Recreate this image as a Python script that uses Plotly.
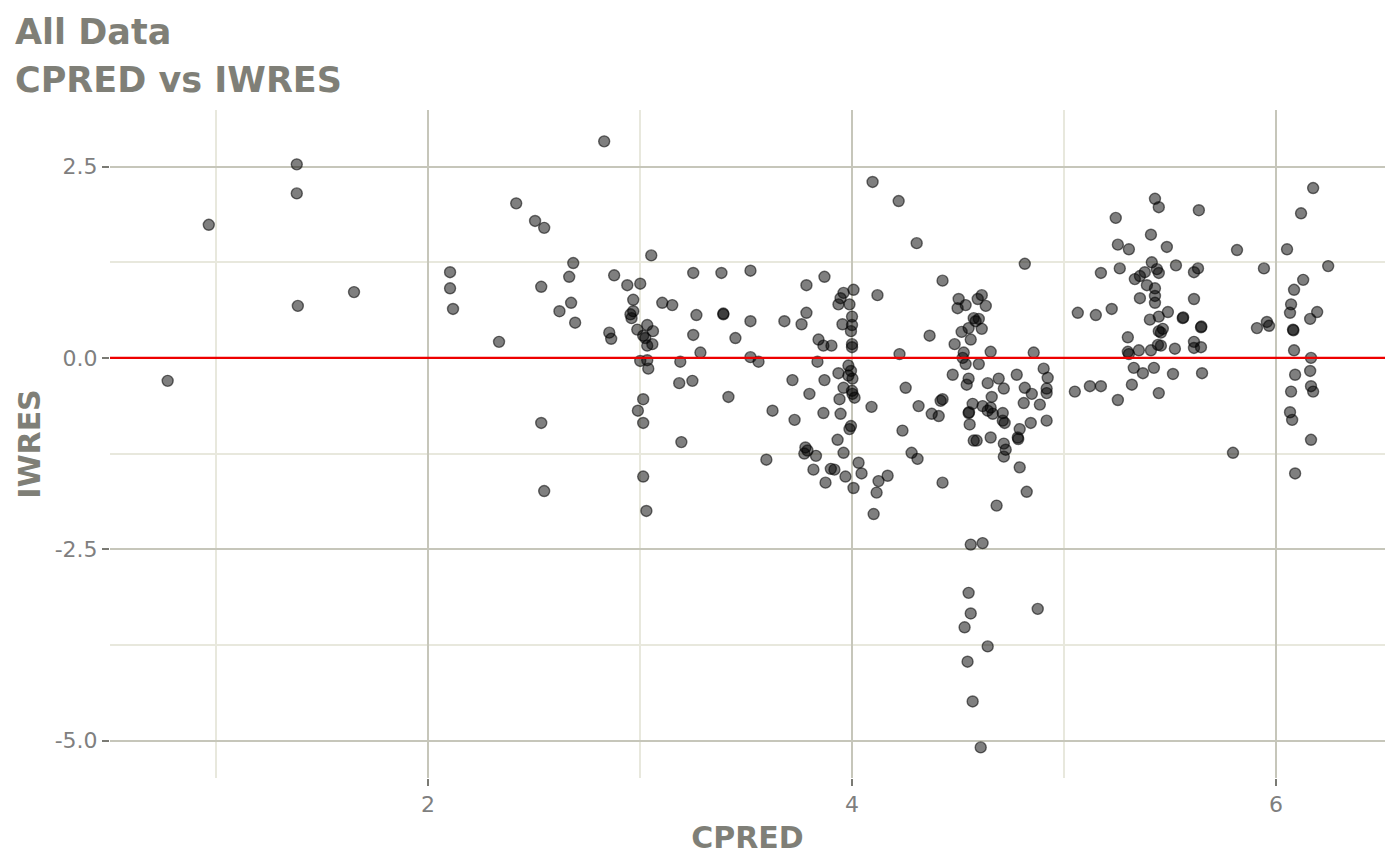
import plotly.graph_objects as go

# CPRED (x) and IWRES (y) values
cpred = [
    0.772, 0.966, 1.381, 1.381, 1.386, 1.651, 2.104, 2.104, 2.118, 2.335, 2.416,
    2.831, 2.505, 2.548, 3.053, 2.685, 2.666, 2.534, 2.878, 3.251, 3.384, 3.521,
    2.94, 3.001, 3.785, 3.87, 2.62, 2.675, 2.694, 2.968, 2.955, 2.968, 2.96,
    3.105, 3.152, 3.266, 3.393, 3.393, 3.521, 3.681, 3.785, 3.762, 3.034, 3.061,
    2.987, 2.855, 2.864, 3.025, 3.034, 3.058, 3.015, 3.251, 3.45, 3.285, 3.521,
    3.559, 3.842, 3.865, 3.837, 3.001, 3.034, 3.039, 3.19, 3.185, 3.247, 3.417,
    3.015, 2.99, 3.015, 3.719, 3.799, 3.87, 3.625, 3.729, 3.865, 2.534, 3.195,
    3.78, 3.79, 3.775, 3.83, 3.596, 3.818, 3.015, 2.548, 3.03, 3.875, 3.9,
    4.305, 4.427, 3.96, 3.946, 3.936, 4.007, 3.988, 4.12, 4.0, 4.0, 3.995,
    3.955, 3.903, 4.0, 4.0, 4.224, 4.366, 4.484, 3.983, 3.995, 3.983, 4.002,
    3.936, 3.96, 4.0, 4.002, 4.012, 3.941, 4.253, 4.092, 3.946, 4.314, 4.418,
    4.427, 4.376, 4.409, 3.995, 3.988, 4.238, 3.932, 3.96, 4.281, 4.309, 3.917,
    3.969, 4.031, 4.045, 4.007, 4.125, 4.168, 4.116, 4.427, 4.102, 4.097, 4.22,
    4.815, 4.503, 4.498, 4.536, 4.593, 4.612, 4.631, 4.574, 4.583, 4.598, 4.55,
    4.612, 4.517, 4.56, 4.527, 4.522, 4.536, 4.654, 4.598, 4.857, 4.475, 4.55,
    4.541, 4.64, 4.692, 4.716, 4.777, 4.904, 4.923, 4.918, 4.918, 4.815, 4.848,
    4.81, 4.886, 4.659, 4.569, 4.616, 4.64, 4.664, 4.654, 4.55, 4.552, 4.711,
    4.711, 4.72, 4.555, 4.843, 4.918, 4.791, 4.782, 4.784, 4.574, 4.588, 4.654,
    4.716, 4.725, 4.716, 4.791, 4.824, 4.682, 5.065, 5.15, 5.174, 5.051, 5.122,
    5.174,
    4.56, 4.616, 4.55, 4.56, 4.531, 4.876, 4.64, 4.545, 4.569, 4.607,
    5.429, 5.447, 5.636, 5.244, 5.41, 5.254, 5.306, 5.485, 5.816, 5.414, 5.528,
    5.438, 5.447, 5.381, 5.358, 5.334, 5.632, 5.613, 5.263, 5.391, 5.429, 5.429,
    5.429, 5.358, 5.613, 5.225, 5.49, 5.405, 5.447, 5.56, 5.562, 5.447, 5.457,
    5.466, 5.646, 5.648, 5.301, 5.301, 5.306, 5.353, 5.41, 5.443, 5.457, 5.523,
    5.613, 5.613, 5.646, 5.329, 5.372, 5.424, 5.514, 5.651, 5.32, 5.254, 5.447,
    6.175, 6.118, 6.052, 5.943, 6.246, 6.128, 6.085, 6.071, 6.066, 6.194, 6.161,
    5.91, 5.957, 5.967, 6.08, 6.082, 6.085, 6.165, 6.161, 6.09, 6.071, 6.165,
    6.175, 6.066, 6.076, 6.165, 5.797, 6.09,
]

iwres = [
    -0.30, 1.74, 2.53, 2.15, 0.68, 0.86, 1.12, 0.91, 0.64, 0.21, 2.02,
    2.83, 1.79, 1.70, 1.34, 1.24, 1.06, 0.93, 1.08, 1.11, 1.11, 1.14,
    0.95, 0.97, 0.95, 1.06, 0.61, 0.72, 0.46, 0.76, 0.57, 0.61, 0.52,
    0.72, 0.69, 0.56, 0.57, 0.58, 0.48, 0.48, 0.59, 0.44, 0.43, 0.35,
    0.37, 0.33, 0.25, 0.26, 0.16, 0.18, 0.29, 0.30, 0.26, 0.07, 0.01,
    -0.05, 0.24, 0.16, -0.05, -0.04, -0.03, -0.14, -0.05, -0.33, -0.30, -0.51,
    -0.54, -0.69, -0.85, -0.29, -0.47, -0.29, -0.69, -0.81, -0.72, -0.85, -1.10,
    -1.17, -1.21, -1.25, -1.28, -1.33, -1.46, -1.55, -1.74, -2.00, -1.63, -1.45,
    1.50, 1.01, 0.85, 0.78, 0.70, 0.89, 0.70, 0.82, 0.54, 0.43, 0.35,
    0.44, 0.16, 0.18, 0.14, 0.05, 0.29, 0.18, -0.10, -0.17, -0.23, -0.27,
    -0.20, -0.39, -0.43, -0.47, -0.52, -0.54, -0.39, -0.64, -0.73, -0.63, -0.56,
    -0.54, -0.73, -0.76, -0.89, -0.93, -0.95, -1.07, -1.24, -1.24, -1.32, -1.46,
    -1.55, -1.37, -1.51, -1.70, -1.61, -1.54, -1.76, -1.63, -2.04, 2.30, 2.05,
    1.23, 0.77, 0.65, 0.69, 0.77, 0.82, 0.68, 0.52, 0.48, 0.51, 0.39,
    0.38, 0.34, 0.24, 0.07, 0.00, -0.08, 0.08, -0.08, 0.07, -0.22, -0.27,
    -0.35, -0.33, -0.27, -0.40, -0.22, -0.14, -0.26, -0.40, -0.46, -0.39, -0.47,
    -0.59, -0.61, -0.51, -0.60, -0.63, -0.69, -0.73, -0.65, -0.72, -0.71, -0.72,
    -0.82, -0.85, -0.87, -0.85, -0.82, -0.93, -1.04, -1.06, -1.08, -1.08, -1.04,
    -1.12, -1.20, -1.29, -1.43, -1.75, -1.93, 0.59, 0.56, 1.11, -0.44, -0.37,
    -0.37,
    -2.44, -2.42, -3.07, -3.34, -3.52, -3.28, -3.77, -3.97, -4.49, -5.09,
    2.08, 1.97, 1.93, 1.83, 1.61, 1.48, 1.42, 1.45, 1.41, 1.25, 1.21,
    1.16, 1.11, 1.12, 1.07, 1.03, 1.17, 1.12, 1.17, 0.95, 0.91, 0.81,
    0.72, 0.78, 0.77, 0.64, 0.60, 0.50, 0.54, 0.52, 0.53, 0.35, 0.33,
    0.38, 0.40, 0.41, 0.27, 0.08, 0.05, 0.10, 0.10, 0.17, 0.16, 0.12,
    0.21, 0.13, 0.14, -0.13, -0.20, -0.13, -0.21, -0.20, -0.35, -0.55, -0.46,
    2.22, 1.89, 1.42, 1.17, 1.20, 1.02, 0.89, 0.70, 0.59, 0.60, 0.51,
    0.39, 0.47, 0.42, 0.37, 0.36, 0.10, 0.00, -0.17, -0.22, -0.44, -0.37,
    -0.44, -0.71, -0.81, -1.07, -1.24, -1.51,
]

x_tickvals = [2, 4, 6]
x_ticktext = ["2", "4", "6"]
x_minor = [1, 3, 5]
y_tickvals = [2.5, 0.0, -2.5, -5.0]
y_ticktext = ["2.5", "0.0", "-2.5", "-5.0"]
y_minor = [1.25, -1.25, -3.75]
ref_line = 0.0
title_lines = ["All Data", "CPRED vs IWRES"]

TXT = "#7f7f77"
TICK = "#7f7f7f"
MAJ = "#c6c6ba"
MIN = "#e8e8dd"

# page body adds an 8px offset; margins compensate for it
L, R, T, B = 102, 23, 102, 95
PH = 865 - T - B

fig = go.Figure()
fig.add_trace(go.Scatter(
    x=cpred, y=iwres, mode="markers",
    marker=dict(size=11, color="rgba(0,0,0,0.5)",
                line=dict(color="rgba(0,0,0,0.55)", width=1.4)),
    showlegend=False, hoverinfo="skip",
))

fig.add_shape(type="line", xref="paper", x0=0, x1=1, yref="y",
              y0=ref_line, y1=ref_line, line=dict(color="#ee0000", width=2.4),
              layer="above")

# title lines
for txt, ypix in zip(title_lines, [24, 72]):
    fig.add_annotation(text=f"<b>{txt}</b>", xref="paper", yref="paper",
                       x=-(L - 5) / (1400 - L - R), xanchor="left",
                       y=1 + (T - ypix) / PH, yanchor="middle",
                       showarrow=False,
                       font=dict(size=35, color=TXT, family="DejaVu Sans"))

fig.update_layout(
    width=1400, height=865,
    paper_bgcolor="white", plot_bgcolor="white",
    margin=dict(l=L, r=R, t=T, b=B),
    font=dict(family="DejaVu Sans", color=TXT),
)

fig.update_xaxes(
    range=[0.5, 6.514], tickmode="array", tickvals=x_tickvals, ticktext=x_ticktext,
    showgrid=True, gridcolor=MAJ, gridwidth=2, zeroline=False, showline=False,
    ticks="outside", ticklen=7, tickwidth=2, tickcolor="#7a7a74",
    tickfont=dict(size=22, color=TICK),
    minor=dict(tickmode="array", tickvals=x_minor, showgrid=True,
               gridcolor=MIN, gridwidth=2, ticks=""),
    title=dict(text="<b>CPRED</b>", font=dict(size=30, color=TXT), standoff=10),
)
fig.update_yaxes(
    range=[-5.49, 3.24], tickmode="array", tickvals=y_tickvals, ticktext=y_ticktext,
    showgrid=True, gridcolor=MAJ, gridwidth=2, zeroline=False, showline=False,
    ticks="outside", ticklen=7, tickwidth=2, tickcolor="#7a7a74",
    tickfont=dict(size=22, color=TICK),
    minor=dict(tickmode="array", tickvals=y_minor, showgrid=True,
               gridcolor=MIN, gridwidth=2, ticks=""),
    title=dict(text="<b>IWRES</b>", font=dict(size=30, color=TXT), standoff=5),
)

fig.write_html("out.html")
